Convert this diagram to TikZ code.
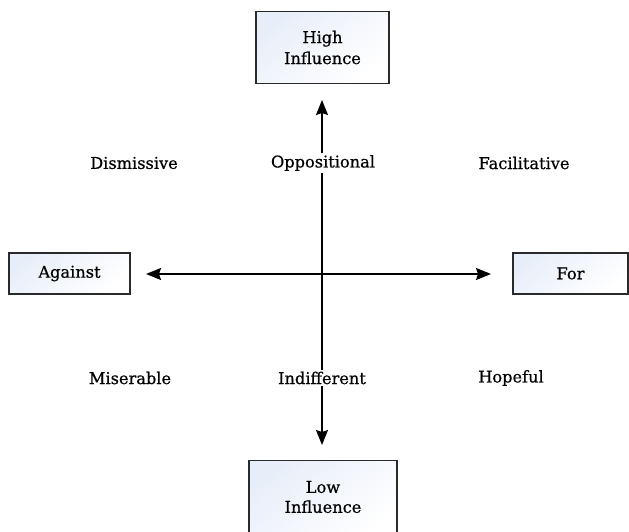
\documentclass[tikz,border=0pt]{standalone}
\usepackage{fontspec}
\setmainfont[FakeBold=0.6]{DejaVu Serif}
\usetikzlibrary{arrows.meta}
\definecolor{boxblue}{HTML}{E8EEF9}
\definecolor{boxline}{HTML}{2A2A2A}
\tikzset{
  box/.style={draw=boxline, line width=1.3pt, top color=boxblue, bottom color=white, shading angle=40,
    minimum width=#1, inner sep=0pt, align=center, font=\fontsize{16.2}{21}\selectfont},
  lbl/.style={font=\fontsize{16.2}{21}\selectfont, inner sep=2pt},
  axis/.style={line width=1.6pt, black, {Stealth[length=15pt,width=12pt,inset=2pt]}-{Stealth[length=15pt,width=12pt,inset=2pt]}}
}
\begin{document}
\begin{tikzpicture}[x=1pt,y=-1pt]
\useasboundingbox (0,0) rectangle (629,532);
\clip (0,0) rectangle (629,532);
\node[box=133pt, minimum height=72pt] (high) at (322.5,47.5) {High\\Influence};
\node[box=148pt, minimum height=80pt, anchor=north] (low) at (323,460) {};
\node[lbl, align=center] (lowtxt) at (323,497) {Low\\[-1pt]Influence};
\node[box=121pt, minimum height=41pt] (against) at (69.5,273.5) {Against};
\node[box=115pt, minimum height=41pt] (for) at (570.5,273.5) {For};
\coordinate (top) at (322,100);
\coordinate (bot) at (322,445);
\coordinate (lft) at (146,274);
\coordinate (rgt) at (491,274);
\draw[axis] (top) -- (bot);
\draw[axis] (lft) -- (rgt);
\node[lbl, fill=white] (opp) at (323,163) {Oppositional};
\node[lbl, fill=white] (ind) at (322,378) {Indifferent};
\node[lbl] (dis) at (134,163) {Dismissive};
\node[lbl] (fac) at (524,163) {Facilitative};
\node[lbl] (mis) at (130,378) {Miserable};
\node[lbl] (hop) at (511,378) {Hopeful};
\end{tikzpicture}
\end{document}
